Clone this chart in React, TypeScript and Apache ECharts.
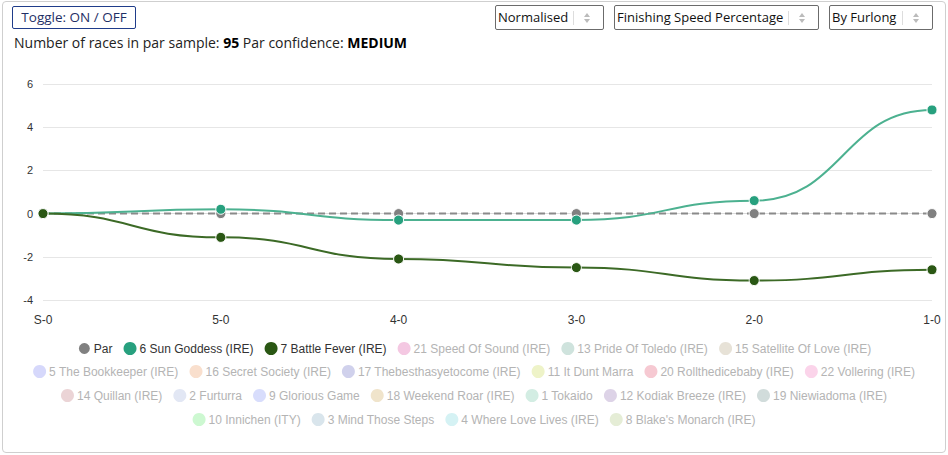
import React, { useEffect, useRef } from "react";
import * as echarts from "echarts";

const categories = ["S-0", "5-0", "4-0", "3-0", "2-0", "1-0"];
const parValues = [0, 0, 0, 0, 0, 0];
const sunGoddessValues = [0, 0.2, -0.3, -0.3, 0.6, 4.8];
const battleFeverValues = [0, -1.1, -2.1, -2.5, -3.1, -2.6];
const yTicks = { min: -4, max: 6, interval: 2 };

const activeRunners = [
  { name: "Par", color: "#808080", line: "#8a8a8a", data: parValues, dashed: true },
  { name: "6 Sun Goddess (IRE)", color: "#27a07e", line: "#4cb190", data: sunGoddessValues, dashed: false },
  { name: "7 Battle Fever (IRE)", color: "#2a5714", line: "#3c6a26", data: battleFeverValues, dashed: false },
];

const hiddenRunnerNames = [
  "21 Speed Of Sound (IRE)", "13 Pride Of Toledo (IRE)", "15 Satellite Of Love (IRE)",
  "5 The Bookkeeper (IRE)", "16 Secret Society (IRE)", "17 Thebesthasyetocome (IRE)",
  "11 It Dunt Marra", "20 Rollthedicebaby (IRE)", "22 Vollering (IRE)",
  "14 Quillan (IRE)", "2 Furturra", "9 Glorious Game", "18 Weekend Roar (IRE)",
  "1 Tokaido", "12 Kodiak Breeze (IRE)", "19 Niewiadoma (IRE)",
  "10 Innichen (ITY)", "3 Mind Those Steps", "4 Where Love Lives (IRE)", "8 Blake's Monarch (IRE)",
];
const hiddenRunnerColors = [
  "#f4c8e2", "#cfe3dd", "#e7e2d7",
  "#d6d8fb", "#f9dfcd", "#d0d1ec",
  "#eef3c8", "#f6c9d2", "#fbd4ea",
  "#ebd4d6", "#e2e7f4", "#d8ddfc", "#f0e4cb",
  "#d3ede3", "#ddd3e7", "#d1dcdb",
  "#cdf8d1", "#d9e5ec", "#d5f2f4", "#e5edd6",
];
// number of legend entries on each legend row
const legendRowSizes = [6, 6, 7, 4];

const selects = [
  { label: "Normalised", left: 495, width: 109 },
  { label: "Finishing Speed Percentage", left: 614, width: 205 },
  { label: "By Furlong", left: 829, width: 104 },
];

function SelectBox({ label, left, width }: { label: string; left: number; width: number }) {
  return (
    <div
      style={{
        position: "absolute",
        left,
        top: 5,
        width: width - 4,
        height: 23,
        border: "1px solid #6b6b6b",
        borderRadius: 2,
        fontFamily: "'Open Sans', sans-serif",
        fontSize: 13,
        color: "#111",
        lineHeight: "23px",
        paddingLeft: 2,
        boxSizing: "content-box",
        background: "#fff",
        whiteSpace: "nowrap",
      }}
    >
      {label}
      <div style={{ position: "absolute", right: 29, top: 5, width: 1, height: 14, background: "#ddd" }} />
      <div style={{ position: "absolute", right: 13, top: 7, width: 0, height: 0, borderLeft: "3px solid transparent", borderRight: "3px solid transparent", borderBottom: "4px solid #bbb" }} />
      <div style={{ position: "absolute", right: 13, top: 13, width: 0, height: 0, borderLeft: "3px solid transparent", borderRight: "3px solid transparent", borderTop: "4px solid #bbb" }} />
    </div>
  );
}

// Smooth curve segment i -> i+1 with horizontal tangents at both ends.
function makeCurveRenderer(values: number[], stroke: string) {
  return (params: any, api: any) => {
    const i = params.dataIndex;
    if (i >= values.length - 1) return null;
    const p0 = api.coord([i, values[i]]);
    const p1 = api.coord([i + 1, values[i + 1]]);
    const h = (p1[0] - p0[0]) * 0.5;
    return {
      type: "bezierCurve",
      silent: true,
      shape: {
        x1: p0[0], y1: p0[1],
        x2: p1[0], y2: p1[1],
        cpx1: p0[0] + h, cpy1: p0[1],
        cpx2: p1[0] - h, cpy2: p1[1],
      },
      style: { stroke, lineWidth: 2, fill: null },
    };
  };
}

export default function App() {
  const ref = useRef<HTMLDivElement>(null);

  useEffect(() => {
    if (!ref.current) return;
    const chart = echarts.init(ref.current, undefined, { renderer: "svg" });

    const legendData: any[] = [
      ...activeRunners.map((r) => ({ name: r.name, itemStyle: { color: r.color }, textStyle: { color: "#333" } })),
      ...hiddenRunnerNames.map((n, i) => ({ name: n, itemStyle: { color: hiddenRunnerColors[i] }, textStyle: { color: "#b4b4b4" } })),
    ];

    const legends: any[] = [];
    let start = 0;
    legendRowSizes.forEach((size, row) => {
      legends.push({
        data: legendData.slice(start, start + size),
        left: "center",
        top: 341 + row * 24,
        icon: "circle",
        itemWidth: 13,
        itemHeight: 16.5,
        itemGap: 11,
        padding: 0,
        textStyle: { fontSize: 12, fontFamily: "'Liberation Sans', Arial, sans-serif", padding: [0, 0, 0, -2] },
      });
      start += size;
    });

    const curveSeries: any[] = activeRunners
      .filter((r) => !r.dashed)
      .map((r) => ({
        name: r.name,
        type: "custom",
        data: r.data.map((v, i) => [i, v]),
        encode: { x: 0, y: 1 },
        color: r.color,
        renderItem: makeCurveRenderer(r.data, r.line),
        z: 2,
      }));

    const pointSeries: any[] = activeRunners.map((r) => ({
      name: r.name,
      type: "line",
      data: r.data,
      symbol: "circle",
      symbolSize: 10,
      color: r.color,
      itemStyle: { color: r.color, borderColor: "#fff", borderWidth: 1 },
      lineStyle: r.dashed ? { color: r.line, width: 2, type: [7, 4] } : { width: 0, opacity: 0 },
      z: 3,
    }));

    const series: any[] = [
      pointSeries[0],
      ...curveSeries,
      ...pointSeries.slice(1),
      ...hiddenRunnerNames.map((n, i) => ({
        name: n,
        type: "line",
        data: [],
        color: hiddenRunnerColors[i],
        symbol: "circle",
      })),
    ];
    pointSeries[0].z = 1;

    chart.setOption({
      animation: false,
      grid: { left: 43, right: 16, top: 84, bottom: 155, containLabel: false },
      xAxis: {
        type: "category",
        data: categories,
        boundaryGap: false,
        axisLine: { lineStyle: { color: "#dcdcdc" } },
        axisTick: { show: true, alignWithLabel: true, lineStyle: { color: "#dcdcdc" } },
        axisLabel: { color: "#333", fontSize: 12, margin: 14, fontFamily: "'Liberation Sans', Arial, sans-serif" },
        splitLine: { show: false },
      },
      yAxis: {
        type: "value",
        min: yTicks.min,
        max: yTicks.max,
        interval: yTicks.interval,
        axisLine: { show: false },
        axisTick: { show: false },
        axisLabel: { color: "#333", fontSize: 11, margin: 10, fontFamily: "'Liberation Sans', Arial, sans-serif" },
        splitLine: { lineStyle: { color: "#e6e6e6" } },
      },
      legend: legends,
      series,
    });

    return () => chart.dispose();
  }, []);

  return (
    <div style={{ position: "fixed", left: 0, top: 0, width: 948, height: 455, background: "#fff" }}>
      <div
        style={{
          position: "absolute",
          left: 2,
          top: 1,
          width: 942,
          height: 450,
          border: "1px solid #cfcfcf",
          borderRadius: 4,
        }}
      />
      <div ref={ref} style={{ position: "absolute", left: 0, top: 0, width: 948, height: 455 }} />
      <div
        style={{
          position: "absolute",
          left: 12,
          top: 6,
          width: 122,
          height: 21,
          border: "1px solid #1f3c8a",
          borderRadius: 2,
          color: "#1f2f66",
          fontFamily: "'Open Sans', sans-serif",
          fontSize: 13.5,
          lineHeight: "21px",
          textAlign: "center",
          background: "#fff",
        }}
      >
        Toggle: ON / OFF
      </div>
      <div
        style={{
          position: "absolute",
          left: 14,
          top: 33,
          fontFamily: "'Open Sans', sans-serif",
          fontSize: 14,
          lineHeight: "20px",
          color: "#222",
          whiteSpace: "nowrap",
        }}
      >
        Number of races in par sample: <b style={{ color: "#000" }}>95</b> Par confidence: <b style={{ color: "#000" }}>MEDIUM</b>
      </div>
      {selects.map((s) => (
        <SelectBox key={s.label} label={s.label} left={s.left} width={s.width} />
      ))}
    </div>
  );
}
